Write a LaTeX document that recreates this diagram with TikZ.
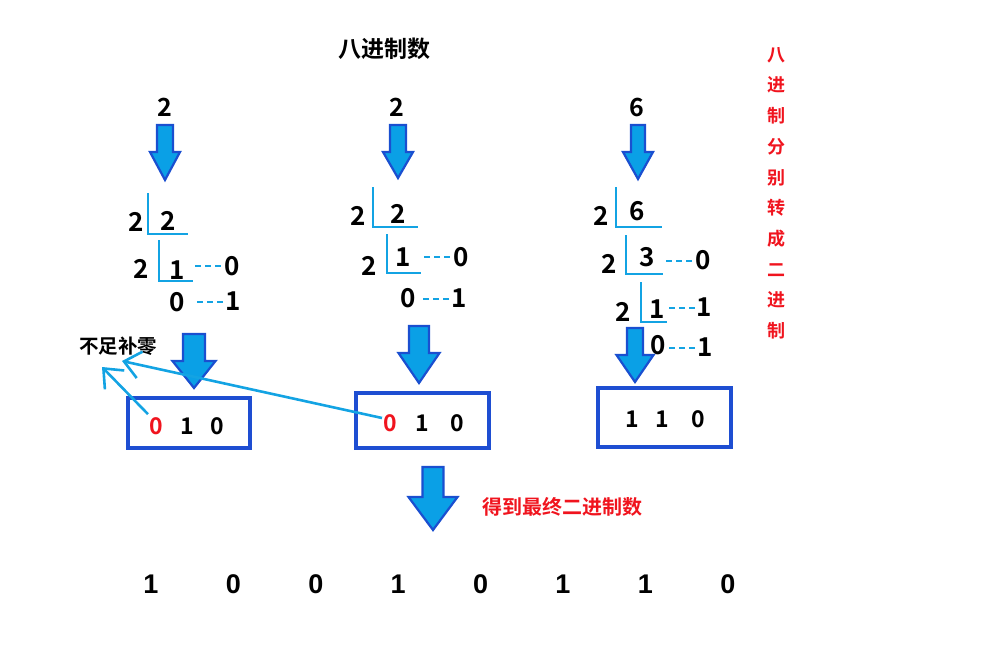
\documentclass[tikz,border=0pt]{standalone}
\usepackage{fontspec}
\setmainfont{Noto Sans CJK SC}[BoldFont={* Bold}]
\newfontfamily\cjk{Noto Sans CJK SC}[BoldFont={* Bold}]
\newfontfamily\arialb{Liberation Sans}
\usetikzlibrary{arrows.meta}
\definecolor{afill}{HTML}{0AA0E6}
\definecolor{aline}{HTML}{1A4FD0}
\definecolor{lblue}{HTML}{13A3E3}
\definecolor{boxblue}{HTML}{1E4ED2}
\definecolor{myred}{HTML}{F0141E}
\newcommand{\blkarrow}[6]{% cx, top, headY, tip, shaft half, head half
  \draw[aline, line width=2.2pt, fill=afill, line join=miter]
    (#1-#5,#2) -- (#1+#5,#2) -- (#1+#5,#3) -- (#1+#6,#3) -- (#1,#4)
    -- (#1-#6,#3) -- (#1-#5,#3) -- cycle;}
\tikzset{
  dig/.style={font=\cjk\fontsize{26}{26}\selectfont\bfseries, inner sep=0pt, anchor=center},
  topdig/.style={font=\cjk\fontsize{25}{25}\selectfont\bfseries, inner sep=0pt},
  boxdig/.style={font=\cjk\fontsize{23}{23}\selectfont\bfseries, inner sep=0pt},
  resdig/.style={font=\arialb\fontsize{27}{27}\selectfont\bfseries, inner sep=0pt},
  lline/.style={lblue, line width=2.6pt},
  dline/.style={lblue, line width=2pt, dash pattern=on 6pt off 4pt},
  resbox/.style={draw=boxblue, line width=3.2pt},
  thin/.style={lblue, line width=2.6pt, -{Straight Barb[length=16pt, width=27pt, line width=2.6pt]}},
  cjkt/.style={font=\cjk\bfseries, inner sep=0pt},
}
\begin{document}
\begin{tikzpicture}[x=1pt, y=-1pt]
\useasboundingbox (0,0) rectangle (986,651);
% title
\node[cjkt, font=\cjk\bfseries\fontsize{23}{23}\selectfont] (title) at (384,49) {八进制数};
% right vertical text
\node[cjkt, font=\cjk\bfseries\fontsize{18}{30.7}\selectfont, myred, align=center, anchor=north] (side) at (776,47)
  {八\\进\\制\\分\\别\\转\\成\\二\\进\\制};

% ---- column 1 ----
\node[topdig] (t1) at (165,107) {2};
\blkarrow{165}{125}{152}{180}{8}{15}
\draw[lline] (148,193) -- (148,234) -- (188,234);
\node[dig] (a1d) at (136,222) {2};
\node[dig] (a1n) at (168,221) {2};
\draw[lline] (159,240) -- (159,281) -- (193,281);
\node[dig] (a2d) at (141,269) {2};
\node[dig] (a2n) at (177,270) {1};
\node[dig] (a2r) at (232,266) {0};
\draw[dline] (195,266) -- (224,266);
\node[dig] (a3n) at (177,302) {0};
\node[dig] (a3r) at (233,301) {1};
\draw[dline] (197,302) -- (226,302);

% ---- column 2 ----
\node[topdig] (t2) at (397,107) {2};
\blkarrow{398}{125}{152}{178}{8}{15}
\draw[lline] (373,187) -- (373,227) -- (418,227);
\node[dig] (b1d) at (358,216) {2};
\node[dig] (b1n) at (398,214) {2};
\draw[lline] (387,234) -- (387,273) -- (421,273);
\node[dig] (b2d) at (369,266) {2};
\node[dig] (b2n) at (403,257) {1};
\node[dig] (b2r) at (461,257) {0};
\draw[dline] (424,257) -- (453,257);
\node[dig] (b3n) at (408,298) {0};
\node[dig] (b3r) at (459,298) {1};
\draw[dline] (423,299) -- (452,299);

% ---- column 3 ----
\node[topdig] (t3) at (637,107) {6};
\blkarrow{638}{125}{152}{179}{7}{15}
\draw[lline] (616,187) -- (616,227) -- (662,227);
\node[dig] (c1d) at (601,216) {2};
\node[dig] (c1n) at (637,211) {6};
\draw[lline] (626,235) -- (626,274) -- (663,274);
\node[dig] (c2d) at (609,264) {2};
\node[dig] (c2n) at (647,257) {3};
\node[dig] (c2r) at (703,260) {0};
\draw[dline] (666,261) -- (694,261);
\draw[lline] (641,282) -- (641,322) -- (667,322);
\node[dig] (c3d) at (623,312) {2};
\node[dig] (c3n) at (657,309) {1};
\node[dig] (c3r) at (704,307) {1};
\draw[dline] (669,308) -- (697,308);
\node[dig] (c4n) at (658,345) {0};
\node[dig] (c4r) at (705,347) {1};
\draw[dline] (669,348) -- (697,348);

% ---- lower arrows ----
\blkarrow{194}{334}{361}{388}{11}{21.5}
\blkarrow{419}{326}{353}{383}{10}{20.5}
\blkarrow{635}{328}{355}{382}{8}{18.5}

% ---- boxes ----
\draw[resbox] (128,398) rectangle (250,448);
\draw[resbox] (356,393) rectangle (489,448);
\draw[resbox] (598,388) rectangle (731,447);
\node[boxdig, myred] (r1) at (156,426) {0};
\node[boxdig] (p1b) at (187,426) {1};
\node[boxdig] (p1c) at (217,426) {0};
\node[boxdig, myred] (r2) at (390,423) {0};
\node[boxdig] (p2b) at (422,423) {1};
\node[boxdig] (p2c) at (457,423) {0};
\node[boxdig] (p3a) at (632,419) {1};
\node[boxdig] (p3b) at (662,419) {1};
\node[boxdig] (p3c) at (698,419) {0};

% ---- pad zero note ----
\node[cjkt, font=\cjk\bfseries\fontsize{19.5}{19.5}\selectfont] (pad) at (118,346) {不足补零};
\coordinate (tipA) at (102,367);
\coordinate (tipB) at (122,361);
\draw[thin] (r1.north west) ++(-1,-3) -- (tipA);
\draw[thin] (r2.west) ++(-1,-5) -- (tipB);

% ---- final ----
\blkarrow{433}{467}{497}{530}{10.5}{24.5}
\node[cjkt, font=\cjk\bfseries\fontsize{20}{20}\selectfont, myred, anchor=west] (final) at (482,507) {得到最终二进制数};
\foreach \d [count=\i] in {1,0,0,1,0,1,1,0}{
  \node[resdig] (f\i) at ({151+82.4*(\i-1)},584) {\d};
}
\end{tikzpicture}
\end{document}
